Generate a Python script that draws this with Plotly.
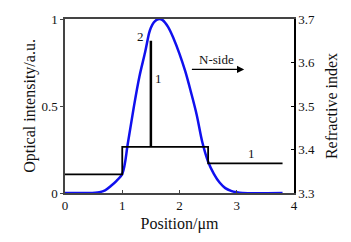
import plotly.graph_objects as go

# Optical intensity (blue curve)
pos = [0, 0.4, 0.6, 0.7, 0.8, 0.9, 1.0, 1.1, 1.2, 1.3, 1.4, 1.47, 1.5, 1.55, 1.6, 1.65,
       1.7, 1.8, 1.9, 2.0, 2.1, 2.2, 2.3, 2.4, 2.5, 2.6, 2.7, 2.8, 2.9, 3.0, 3.1, 3.8]
intensity = [0, 0, 0.005, 0.015, 0.04, 0.07, 0.11, 0.29, 0.49, 0.67, 0.81, 0.92, 0.95, 0.98,
             0.995, 1.0, 0.995, 0.955, 0.885, 0.80, 0.70, 0.58, 0.45, 0.29, 0.18, 0.11,
             0.06, 0.028, 0.012, 0.004, 0.0, 0.0]

# Refractive index step profile
n_pos = [0, 1, 1, 2.5, 2.5, 3.8]
n_val = [3.343, 3.343, 3.406, 3.406, 3.368, 3.368]

# Thin spike layer
spike_pos = [1.5, 1.5]
spike_val = [3.406, 3.65]

font = dict(family="Liberation Serif, Times New Roman, serif", size=13, color="#111")

fig = go.Figure()
fig.add_trace(go.Scatter(x=n_pos, y=n_val, mode="lines", yaxis="y2",
                         line=dict(color="black", width=1.8), showlegend=False))
fig.add_trace(go.Scatter(x=spike_pos, y=spike_val, mode="lines", yaxis="y2",
                         line=dict(color="black", width=2.5), showlegend=False))
fig.add_trace(go.Scatter(x=pos, y=intensity, mode="lines", line_shape="spline",
                         line=dict(color="#1010ee", width=2.5), showlegend=False))

fig.add_annotation(x=1.31, y=0.90, text="2", showarrow=False, font=font)
fig.add_annotation(x=1.63, y=0.656, text="1", showarrow=False, font=font)
fig.add_annotation(x=3.25, y=0.225, text="1", showarrow=False, font=font)
fig.add_annotation(x=2.64, y=0.77, text="N-side", showarrow=False, font=font)
fig.add_annotation(x=3.13, y=0.71, ax=2.19, ay=0.71, xref="x", yref="y",
                   axref="x", ayref="y", text="", showarrow=True,
                   arrowhead=2, arrowsize=1.2, arrowwidth=1.2, arrowcolor="black")

fig.update_layout(
    width=351, height=242,
    margin=dict(l=65, r=57, t=16, b=43),
    plot_bgcolor="white", paper_bgcolor="white",
    font=font,
    xaxis=dict(range=[0, 4], tickvals=[0, 1, 2, 3, 4], showgrid=False, zeroline=False,
               showline=True, linecolor="#444", linewidth=1.5, mirror=True,
               ticks="inside", ticklen=3, tickcolor="#444",
               title=dict(text="Position/μm", standoff=5)),
    yaxis=dict(range=[0, 1], tickvals=[0, 0.5, 1], ticktext=["0", "0.5", "1"],
               showgrid=False, zeroline=False,
               showline=True, linecolor="#444", linewidth=1.5,
               ticks="outside", ticklen=3, tickcolor="#444",
               title=dict(text="Optical intensity/a.u.", standoff=2)),
    yaxis2=dict(range=[3.3, 3.7], tickvals=[3.3, 3.4, 3.5, 3.6, 3.7],
                ticktext=["3.3", "3.4", "3.5", "3.6", "3.7"],
                overlaying="y", side="right", showgrid=False, zeroline=False,
                showline=True, linecolor="black", linewidth=1.5,
                ticks="inside", ticklen=3, tickcolor="black",
                title=dict(text="Refractive index", standoff=12)),
)

fig.write_html("out.html")
